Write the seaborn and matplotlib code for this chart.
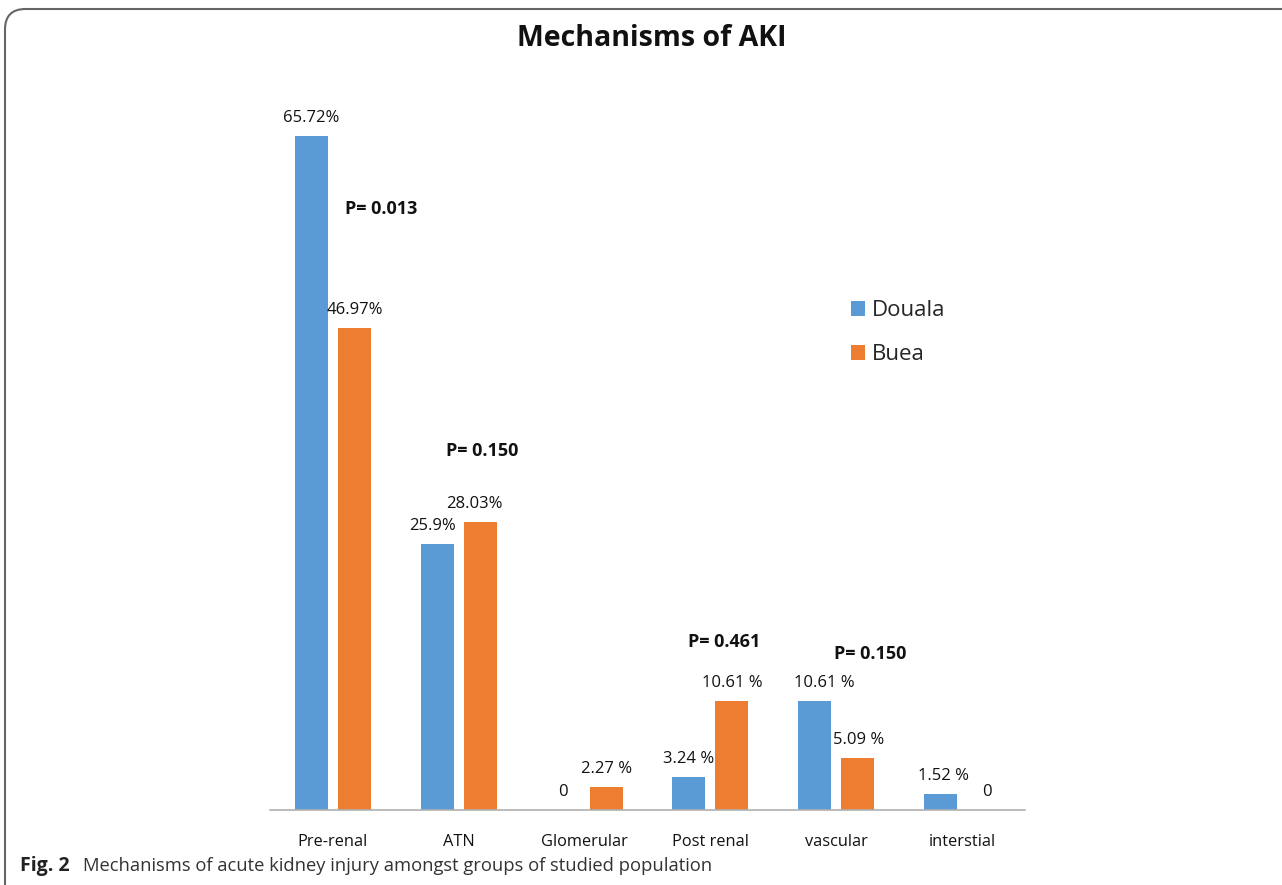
import matplotlib
matplotlib.use("Agg")
import matplotlib.pyplot as plt
import seaborn as sns
import pandas as pd
from matplotlib.patches import FancyBboxPatch, Patch

categories = ["Pre-renal", "ATN", "Glomerular", "Post renal", "vascular", "interstial"]
groups = ["Douala", "Buea"]
douala = [65.72, 25.9, 0, 3.24, 10.61, 1.52]
buea = [46.97, 28.03, 2.27, 10.61, 5.09, 0]
douala_labels = ["65.72%", "25.9%", "0", "3.24 %", "10.61 %", "1.52 %"]
buea_labels = ["46.97%", "28.03%", "2.27 %", "10.61 %", "5.09 %", "0"]
p_values = ["P= 0.013", "P= 0.150", "P= 0.461", "P= 0.150"]
title = "Mechanisms of AKI"
caption_bold = "Fig. 2"
caption = "Mechanisms of acute kidney injury amongst groups of studied population"

colors = {"Douala": "#5B9BD5", "Buea": "#ED7D31"}

df = pd.DataFrame({
    "category": categories * 2,
    "group": [groups[0]] * len(categories) + [groups[1]] * len(categories),
    "value": douala + buea,
})

sns.set_theme(style="white")
plt.rcParams["font.family"] = ["Open Sans", "DejaVu Sans"]

fig = plt.figure(figsize=(12.82, 8.85), dpi=100)
W, H = 1282, 885
ax = fig.add_axes([270 / W, (H - 810) / H, 755 / W, (810 - 92) / H])

sns.barplot(data=df, x="category", y="value", hue="group", order=categories,
            hue_order=groups, palette=colors, width=0.684, gap=0.234,
            saturation=1, linewidth=0, ax=ax, legend=False)

ax.set_xlim(-0.5, len(categories) - 0.5)
ax.set_ylim(0, 70)
ax.set_xlabel("")
ax.set_ylabel("")
ax.set_yticks([])
ax.tick_params(axis="x", length=0, pad=17, labelsize=11.8, labelcolor="#111111")
for s in ["top", "right", "left"]:
    ax.spines[s].set_visible(False)
ax.spines["bottom"].set_color("#b0b0b0")
ax.spines["bottom"].set_linewidth(1.2)

# data labels
off = 0.171
dx_d = [0, -0.04, 0, 0, 0.08, 0.02]
dx_b = [0, -0.05, 0, 0, 0.01, 0.03]
for i, (v, lab) in enumerate(zip(douala, douala_labels)):
    ax.annotate(lab, (i - off + dx_d[i], v), xytext=(0, 13), textcoords="offset points",
                ha="center", va="center", fontsize=12, color="#111111")
for i, (v, lab) in enumerate(zip(buea, buea_labels)):
    ax.annotate(lab, (i + off + dx_b[i], v), xytext=(0, 13), textcoords="offset points",
                ha="center", va="center", fontsize=12, color="#111111")

# p-values annotations
p_pos = [(0.38, 58.6), (1.19, 35.0), (3.11, 16.4), (4.27, 15.2)]
for txt, (x, y) in zip(p_values, p_pos):
    ax.text(x, y, txt, ha="center", va="center", fontsize=13, fontweight="bold",
            color="#111111")

# legend
handles = [Patch(facecolor=colors[g], edgecolor="none") for g in groups]
fig.legend(handles, groups, loc="upper left", bbox_to_anchor=(831 / W, 1 - 280 / H),
           frameon=False, fontsize=16, handlelength=0.65, handleheight=0.65,
           handletextpad=0.3, labelspacing=1.05)

fig.text(652 / W, 1 - 38 / H, title, ha="center", va="center", fontsize=20.5,
         fontweight="bold", color="#111111")

# caption
fig.text(20 / W, 1 - 866 / H, caption_bold, ha="left", va="center", fontsize=14,
         fontweight="bold", color="#222222")
fig.text(83 / W, 1 - 866 / H, caption, ha="left", va="center", fontsize=13.2,
         color="#333333")

# frame
frame = FancyBboxPatch((5 / W, -0.05), 1.2, (1 - 9 / H) + 0.05,
                       boxstyle="round,pad=0,rounding_size=0.016",
                       transform=fig.transFigure, facecolor="none",
                       edgecolor="#666666", linewidth=1.5,
                       mutation_aspect=W / H)
fig.patches.append(frame)

fig.savefig("out.png", dpi=100)
